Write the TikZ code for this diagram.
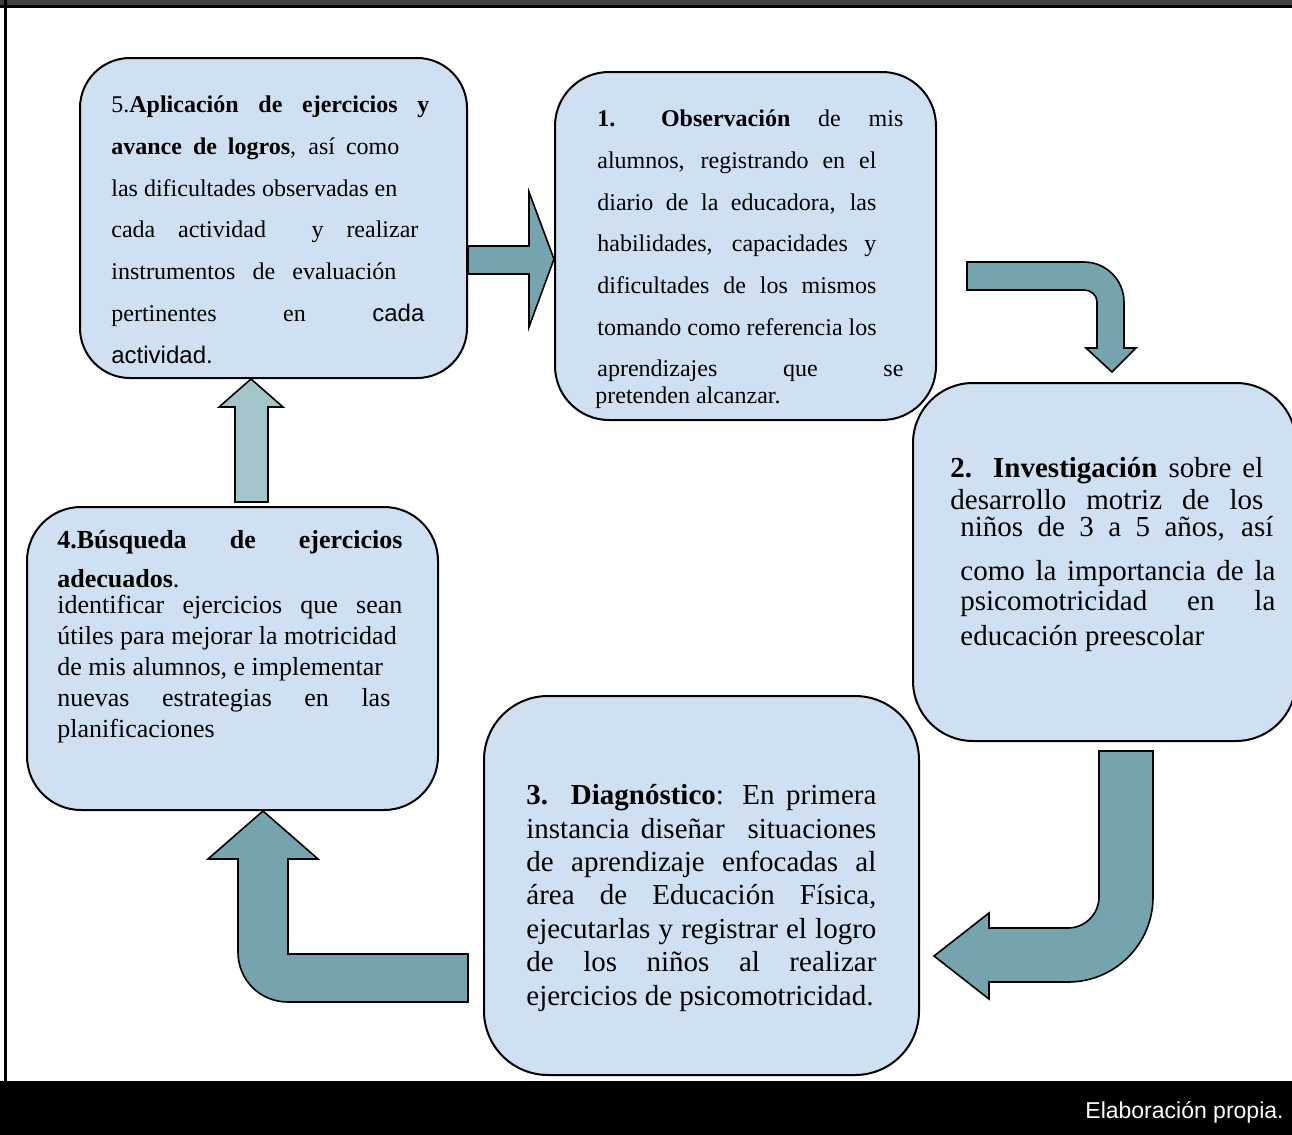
\documentclass[tikz,border=0pt]{standalone}
\usepackage{fontspec}
\setmainfont{Liberation Serif}
\setsansfont{Liberation Sans}
\usetikzlibrary{positioning}

\definecolor{cajaazul}{RGB}{207,224,242}
\definecolor{flechagris}{RGB}{117,164,174}
\definecolor{flechaclara}{RGB}{162,197,201}
\definecolor{barra}{RGB}{64,64,64}

\newcommand{\jl}[2]{\makebox[#1][s]{#2}}

\begin{document}
\begin{tikzpicture}[x=0.5pt,y=-0.5pt,
                    caja/.style={draw=black,line width=1pt,fill=cajaazul,rounded corners=27pt,inner sep=0pt},
                    texto/.style={anchor=base west,align=left,inner sep=0pt},
                    flecha/.style={draw=black,line width=0.8pt,fill=flechagris,line join=miter}]

  \useasboundingbox (0,0) rectangle (1292,1135);
  \fill[white] (0,0) rectangle (1292,1135);
  \fill[barra] (0,0) rectangle (1292,5);
  \fill[black] (0,5) rectangle (1292,8);
  \fill[black] (4,0) rectangle (7,1081);
  \fill[black] (0,1081) rectangle (1292,1135);
  \node[anchor=base east,text=white,inner sep=0pt,font=\sffamily\fontsize{11.5}{14}\selectfont] (fuente) at (1284,1118) {Elaboración propia.};

  \node[caja,minimum width=193.5pt,minimum height=160pt,rounded corners=25pt] (b5) at (273.5,218) {};
  \node[caja,minimum width=190.5pt,minimum height=174pt] (b1) at (745.5,246) {};
  \node[caja,minimum width=191.5pt,minimum height=179pt,rounded corners=30pt] (b2) at (1104.5,562) {};
  \node[caja,minimum width=205.5pt,minimum height=151.5pt] (b4) at (232.5,658.5) {};
  \node[caja,minimum width=217.5pt,minimum height=189.5pt,rounded corners=32pt] (b3) at (701.5,885.5) {};

  % textos (anclados en la linea base de la ultima linea)
  \node[texto,font=\fontsize{12}{20.85}\selectfont] (t5) at (111,363) {%
    \jl{159pt}{5.\textbf{Aplicación de ejercicios y}}\\
    \jl{144pt}{\textbf{avance de logros}, así como}\\
    las dificultades observadas en\\
    \jl{153.5pt}{cada actividad \ y realizar}\\
    \jl{142.5pt}{instrumentos de evaluación}\\
    \jl{156.5pt}{pertinentes en {\sffamily cada}}\\
    {\sffamily actividad.}};
  \node[texto,font=\fontsize{12}{20.85}\selectfont] (t1) at (597,403) {%
    \jl{153pt}{\textbf{1. \ Observación} \ de \ mis}\\
    \jl{139.5pt}{alumnos, registrando en el}\\
    \jl{139.5pt}{diario de la educadora, las}\\
    \jl{139.5pt}{habilidades, capacidades y}\\
    \jl{139.5pt}{dificultades de los mismos}\\
    tomando como referencia los\\
    \jl{153pt}{aprendizajes que se}\\[-7.8pt]
    \hspace*{-1pt}pretenden alcanzar.};
  \node[texto,font=\fontsize{14.5}{15}\selectfont] (t2) at (950,645) {%
    \jl{156.5pt}{\textbf{2. Investigación} sobre el}\\[1pt]
    \jl{156.5pt}{desarrollo motriz de los}\\[-1.5pt]
    \hspace*{5pt}\jl{156.5pt}{niños de 3 a 5 años, así}\\[7pt]
    \hspace*{5pt}\jl{157.5pt}{como la importancia de la}\\
    \hspace*{5pt}\jl{157.5pt}{psicomotricidad en la}\\[2.5pt]
    \hspace*{5pt}educación preescolar};
  \node[texto,font=\fontsize{14.5}{16.7}\selectfont] (t3) at (526,1005) {%
    \jl{175pt}{\textbf{3. Diagnóstico}: En primera}\\
    \jl{175pt}{instancia diseñar \ situaciones}\\
    \jl{175pt}{de aprendizaje enfocadas al}\\
    \jl{175pt}{área de Educación Física,}\\
    \jl{175pt}{ejecutarlas y registrar el logro}\\
    \jl{175pt}{de los niños al realizar}\\
    ejercicios de psicomotricidad.};
  \node[texto,font=\fontsize{13}{15.4}\selectfont] (t4) at (57,737) {%
    \jl{172.5pt}{\textbf{4.Búsqueda de ejercicios}}\\[4pt]
    \textbf{adecuados}.\\[-2pt]
    \jl{172.5pt}{identificar ejercicios que sean}\\
    útiles para mejorar la motricidad\\
    de mis alumnos, e implementar\\
    \jl{166.5pt}{nuevas estrategias en las}\\
    planificaciones};

  % flechas
  \draw[flecha] (b5.east |- 0,246) -- (529,246) -- (529,192) -- (b1.west |- 0,259)
    -- (529,327) -- (529,274) -- (b5.east |- 0,274) -- cycle;
  \draw[flecha] (967,262) -- (1084,262) .. controls (1106,262) and (1124,280) .. (1124,302)
    -- (1124,348) -- (1136,348) -- (1112,372) -- (1086,348) -- (1097,348)
    -- (1097,302) .. controls (1097,295) and (1091,290) .. (1084,290) -- (967,290) -- cycle;
  \draw[flecha] (1099,751) -- (1153,751) -- (1153,897) .. controls (1153,944) and (1115,982) .. (1068,982)
    -- (989,982) -- (989,999) -- (934,956) -- (989,913) -- (989,928)
    -- (1068,928) .. controls (1085,928) and (1099,914) .. (1099,897) -- cycle;
  \draw[flecha] (468,954) -- (468,1002) -- (288,1002) .. controls (260,1002) and (238,980) .. (238,952)
    -- (238,859) -- (208,859) -- (263,0 |- b4.south) -- (318,859) -- (288,859) -- (288,954) -- cycle;
  \draw[flecha,fill=flechaclara] (235,502) -- (235,407) -- (219,407) -- (251,0 |- b5.south)
    -- (283,407) -- (268,407) -- (268,502) -- cycle;
\end{tikzpicture}
\end{document}
